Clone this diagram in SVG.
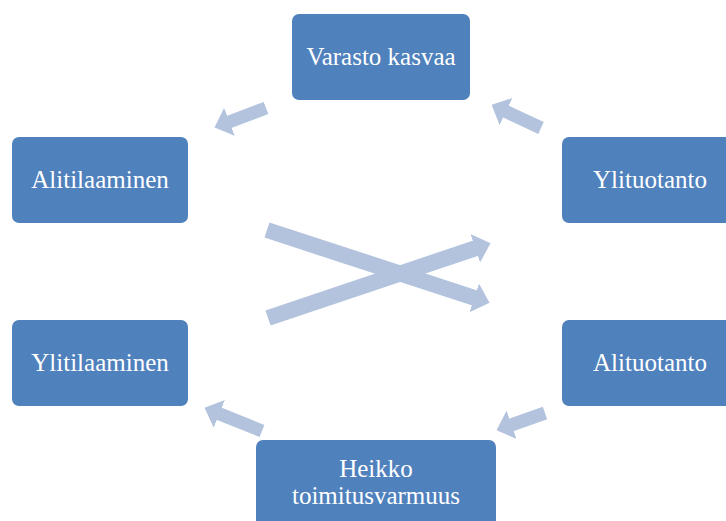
<svg xmlns="http://www.w3.org/2000/svg" width="726" height="521" viewBox="0 0 726 521">
<style>
.box{fill:#4F81BD;}
.lbl{font-family:"Liberation Serif","Times New Roman",serif;font-size:25px;fill:#FFFFFF;text-anchor:middle;}
.arr{stroke:#B3C3DE;fill:none;stroke-linecap:butt;marker-end:url(#head);}
</style>
<defs>
<marker id="head" markerUnits="userSpaceOnUse" viewBox="0 -15 16 30" markerWidth="16" markerHeight="30" refX="0.5" refY="0" orient="auto">
<path d="M0,-15 L16,0 L0,15 Z" fill="#B3C3DE"/>
</marker>
</defs>
<rect width="726" height="521" fill="#FFFFFF"/>
<g id="connectors">
<line class="arr" stroke-width="13" x1="266" y1="108" x2="229" y2="122"/>
<line class="arr" stroke-width="13" x1="541" y1="128" x2="505.6" y2="111.4"/>
<line class="arr" stroke-width="13" x1="262" y1="431" x2="218.9" y2="413.6"/>
<line class="arr" stroke-width="13" x1="545" y1="413" x2="511.1" y2="425"/>
<line class="arr" stroke-width="16" x1="267" y1="230" x2="474.8" y2="298"/>
<line class="arr" stroke-width="16" x1="268" y1="318" x2="475.8" y2="248.1"/>
</g>
<g id="varasto">
<rect class="box" x="292" y="14" width="178" height="86" rx="7"/>
<text class="lbl" x="381" y="65">Varasto kasvaa</text>
</g>
<g id="alitilaaminen">
<rect class="box" x="12" y="137" width="176" height="86" rx="7"/>
<text class="lbl" x="100" y="188">Alitilaaminen</text>
</g>
<g id="ylituotanto">
<rect class="box" x="562" y="137" width="176" height="86" rx="7"/>
<text class="lbl" x="650" y="188">Ylituotanto</text>
</g>
<g id="ylitilaaminen">
<rect class="box" x="12" y="320" width="176" height="86" rx="7"/>
<text class="lbl" x="100" y="371">Ylitilaaminen</text>
</g>
<g id="alituotanto">
<rect class="box" x="562" y="320" width="176" height="86" rx="7"/>
<text class="lbl" x="650" y="371">Alituotanto</text>
</g>
<g id="heikko">
<rect class="box" x="256" y="440" width="240" height="90" rx="7"/>
<text class="lbl" x="376" y="477">Heikko</text>
<text class="lbl" x="376" y="504">toimitusvarmuus</text>
</g>
</svg>
